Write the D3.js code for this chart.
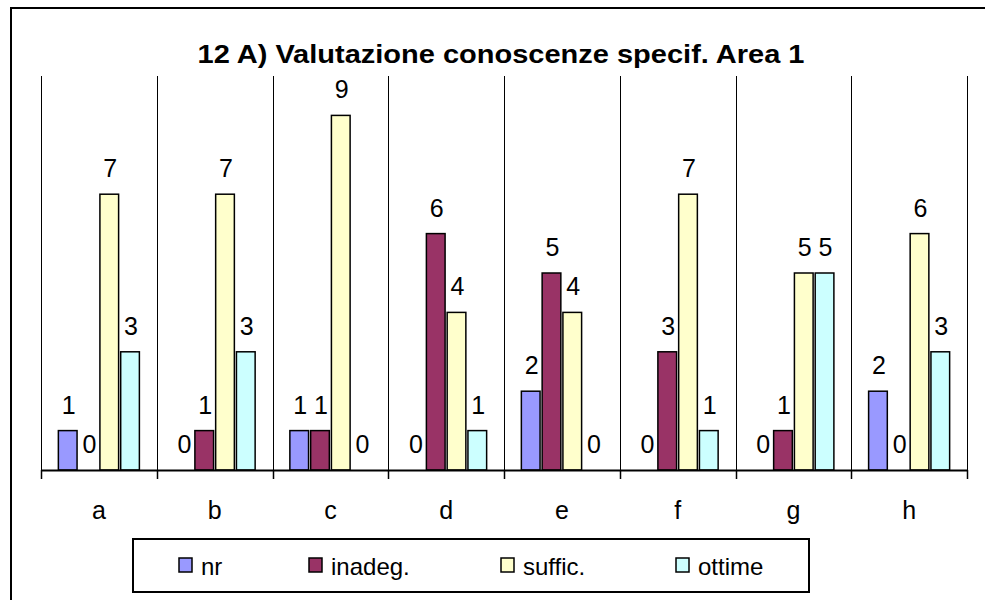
<!DOCTYPE html>
<html>
<head>
<meta charset="utf-8">
<script src="https://cdn.jsdelivr.net/npm/d3@7"></script>
<style>
  body { margin: 0; background: #fff; }
  text { font-family: "Liberation Sans", Arial, sans-serif; fill: #000; }
</style>
</head>
<body>
<div id="chart"></div>
<script>
var categories = ["a", "b", "c", "d", "e", "f", "g", "h"];
var seriesNames = ["nr", "inadeg.", "suffic.", "ottime"];
var seriesColors = ["#9999FF", "#993366", "#FFFFCC", "#CCFFFF"];
var nr =      [1, 0, 1, 0, 2, 0, 0, 2];
var inadeg =  [0, 1, 1, 6, 5, 3, 1, 0];
var suffic =  [7, 7, 9, 4, 4, 7, 5, 6];
var ottime =  [3, 3, 0, 1, 0, 1, 5, 3];
var seriesValues = [nr, inadeg, suffic, ottime];
var chartTitle = "12 A) Valutazione conoscenze specif. Area 1";

var W = 985, H = 600;
var plot = { left: 41, right: 967, top: 76, bottom: 470 };

var svg = d3.select("#chart")
    .append("svg")
    .attr("width", W)
    .attr("height", H);

// outer chart border (runs off the right / bottom edge like the original)
svg.append("rect")
    .attr("x", 11)
    .attr("y", 8)
    .attr("width", 1000)
    .attr("height", 700)
    .attr("fill", "#fff")
    .attr("stroke", "#000")
    .attr("stroke-width", 2);

svg.append("text")
    .attr("x", 501)
    .attr("y", 63)
    .attr("text-anchor", "middle")
    .attr("textLength", 607)
    .attr("lengthAdjust", "spacingAndGlyphs")
    .style("font-size", "26px")
    .style("font-weight", "bold")
    .text(chartTitle);

var x0 = d3.scaleBand()
    .domain(categories)
    .range([plot.left, plot.right])
    .padding(0);

var bw = x0.bandwidth();
var groupW = bw * 0.70;
var x1 = d3.scaleBand()
    .domain(seriesNames)
    .range([(bw - groupW) / 2, (bw + groupW) / 2])
    .paddingInner(0.1)
    .paddingOuter(0);

var y = d3.scaleLinear()
    .domain([0, 10])
    .range([plot.bottom, plot.top]);

// category separators
svg.append("g")
    .selectAll("line")
    .data(categories.concat(["_end"]))
    .enter()
    .append("line")
    .attr("x1", function (d, i) { return Math.round(plot.left + i * bw) + 0.5; })
    .attr("x2", function (d, i) { return Math.round(plot.left + i * bw) + 0.5; })
    .attr("y1", plot.top)
    .attr("y2", plot.bottom)
    .attr("stroke", "#000")
    .attr("stroke-width", 1);

// bars
var rows = [];
categories.forEach(function (c, ci) {
    seriesNames.forEach(function (s, si) {
        rows.push({ cat: c, series: s, si: si, value: seriesValues[si][ci] });
    });
});

var groups = svg.selectAll(".cat")
    .data(categories)
    .enter()
    .append("g")
    .attr("class", "cat")
    .attr("transform", function (d) { return "translate(" + x0(d) + ",0)"; });

groups.selectAll("rect")
    .data(function (c) { return rows.filter(function (r) { return r.cat === c && r.value > 0; }); })
    .enter()
    .append("rect")
    .attr("x", function (d) { return x1(d.series); })
    .attr("y", function (d) { return y(d.value); })
    .attr("width", x1.bandwidth())
    .attr("height", function (d) { return y(0) - y(d.value); })
    .attr("fill", function (d) { return seriesColors[d.si]; })
    .attr("stroke", "#000")
    .attr("stroke-width", 1.5);

groups.selectAll("text")
    .data(function (c) { return rows.filter(function (r) { return r.cat === c; }); })
    .enter()
    .append("text")
    .attr("x", function (d) { return x1(d.series) + x1.bandwidth() / 2 + 1; })
    .attr("y", function (d) { return y(d.value) - 17; })
    .attr("text-anchor", "middle")
    .style("font-size", "25px")
    .text(function (d) { return d.value; });

// x axis
var xAxis = svg.append("g")
    .attr("transform", "translate(0," + plot.bottom + ")");

xAxis.append("line")
    .attr("x1", plot.left)
    .attr("x2", plot.right + 1)
    .attr("y1", 0.5)
    .attr("y2", 0.5)
    .attr("stroke", "#000")
    .attr("stroke-width", 2);

xAxis.selectAll(".tick")
    .data(categories.concat(["_end"]))
    .enter()
    .append("line")
    .attr("x1", function (d, i) { return Math.round(plot.left + i * bw) + 0.5; })
    .attr("x2", function (d, i) { return Math.round(plot.left + i * bw) + 0.5; })
    .attr("y1", 0)
    .attr("y2", 9)
    .attr("stroke", "#000")
    .attr("stroke-width", 1.5);

xAxis.selectAll(".lbl")
    .data(categories)
    .enter()
    .append("text")
    .attr("x", function (d) { return x0(d) + bw / 2; })
    .attr("y", 49)
    .attr("text-anchor", "middle")
    .style("font-size", "25px")
    .text(function (d) { return d; });

// legend
var legendX = [179, 309, 501, 676];
var legend = svg.append("g");

legend.append("rect")
    .attr("x", 133)
    .attr("y", 539)
    .attr("width", 676)
    .attr("height", 53)
    .attr("fill", "#fff")
    .attr("stroke", "#000")
    .attr("stroke-width", 2);

var items = legend.selectAll(".item")
    .data(seriesNames)
    .enter()
    .append("g")
    .attr("transform", function (d, i) { return "translate(" + legendX[i] + ",558)"; });

items.append("rect")
    .attr("width", 13)
    .attr("height", 14)
    .attr("fill", function (d, i) { return seriesColors[i]; })
    .attr("stroke", "#000")
    .attr("stroke-width", 1.5);

items.append("text")
    .attr("x", 22)
    .attr("y", 17)
    .style("font-size", "24px")
    .text(function (d) { return d; });
</script>
</body>
</html>
